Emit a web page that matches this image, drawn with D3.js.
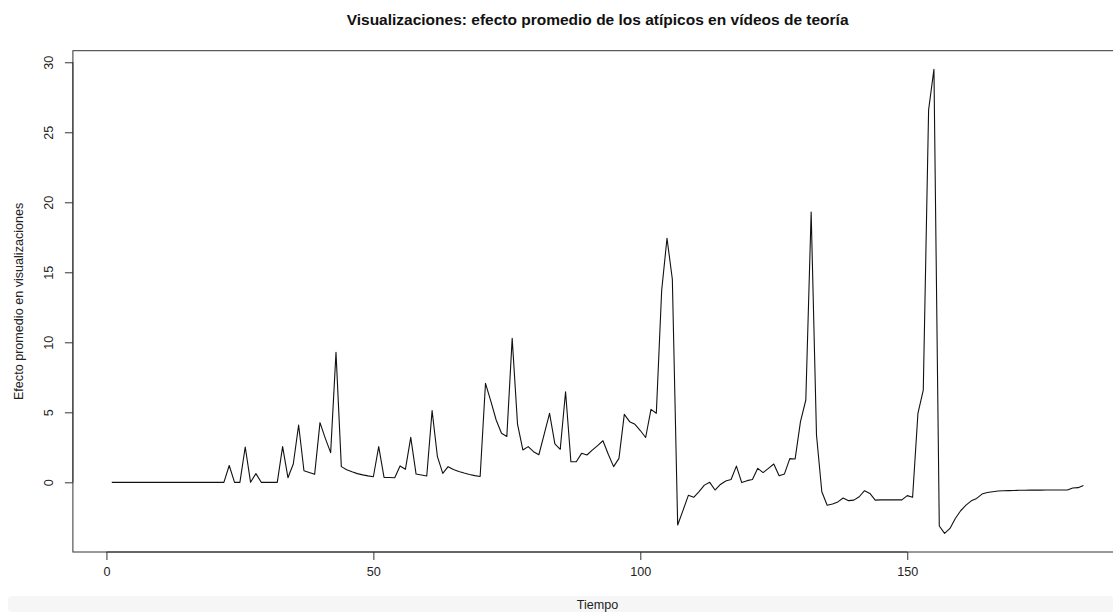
<!DOCTYPE html>
<html>
<head>
<meta charset="utf-8">
<script src="https://cdn.jsdelivr.net/npm/d3@7"></script>
<style>
  body { margin: 0; background: #fff; }
  svg { display: block; font-family: "Liberation Sans", Arial, Helvetica, sans-serif; }
</style>
</head>
<body>
<svg id="chart"></svg>
<script>
// efecto promedio de los atípicos (visualizaciones), un valor por unidad de tiempo
const efecto = [
  0, 0, 0, 0, 0, 0, 0, 0, 0, 0,
  0, 0, 0, 0, 0, 0, 0, 0, 0, 0,
  0, 0, 1.2, 0, 0, 2.52, 0, 0.62, 0, 0,
  0, 0, 2.55, 0.33, 1.31, 4.09, 0.83, 0.7, 0.57, 4.26,
  3.14, 2.12, 9.28, 1.12, 0.9, 0.75, 0.62, 0.53, 0.46, 0.4,
  2.55, 0.35, 0.34, 0.33, 1.17, 0.93, 3.21, 0.59, 0.52, 0.45,
  5.12, 1.83, 0.64, 1.12, 0.92, 0.78, 0.66, 0.56, 0.48, 0.42,
  7.07, 5.8, 4.45, 3.5, 3.28, 10.28, 4.16, 2.31, 2.55, 2.19,
  1.97, 3.45, 4.93, 2.74, 2.36, 6.47, 1.47, 1.47, 2.07, 1.95,
  2.3, 2.62, 2.97, 2.0, 1.12, 1.71, 4.85, 4.33, 4.14, 3.7,
  3.2, 5.21, 4.93, 13.7, 17.43, 14.5, -3.05, -2.0, -0.93, -1.07,
  -0.67, -0.2, 0.0, -0.55, -0.15, 0.1, 0.2, 1.16, -0.02, 0.12,
  0.2, 1.0, 0.69, 1.0, 1.31, 0.47, 0.6, 1.69, 1.67, 4.33,
  5.88, 19.3, 3.38, -0.67, -1.64, -1.55, -1.4, -1.12, -1.31, -1.27,
  -1.03, -0.6, -0.79, -1.27, -1.25, -1.24, -1.25, -1.25, -1.25, -0.95,
  -1.07, 4.92, 6.59, 26.6, 29.5, -3.12, -3.65, -3.29, -2.58, -2.03,
  -1.63, -1.32, -1.15, -0.84, -0.73, -0.67, -0.62, -0.6, -0.59, -0.58,
  -0.57, -0.57, -0.56, -0.56, -0.56, -0.55, -0.55, -0.55, -0.55, -0.55,
  -0.4, -0.38, -0.22
];
const tiempo = efecto.map((d, i) => i + 1);

const xTicks = [0, 50, 100, 150];
const yTicks = [0, 5, 10, 15, 20, 25, 30];

const titulo = "Visualizaciones: efecto promedio de los atípicos en vídeos de teoría";
const xLabel = "Tiempo";
const yLabel = "Efecto promedio en visualizaciones";

const svg_width = 1113, svg_height = 612;
// plot region (the right side runs past the window, as in the screenshot)
const plot = {left: 72.9, right: 1122.3, top: 50.7, bottom: 552};
const baseFont = 12.6;

const svg = d3.select("#chart")
  .attr("width", svg_width)
  .attr("height", svg_height);

// R style axis limits: data range padded by 4% each side
function rRange(ext) {
  const pad = (ext[1] - ext[0]) * 0.04;
  return [ext[0] - pad, ext[1] + pad];
}

const xScale = d3.scaleLinear()
  .domain(rRange(d3.extent(tiempo)))
  .range([plot.left, plot.right]);

const yScale = d3.scaleLinear()
  .domain(rRange(d3.extent(efecto)))
  .range([plot.bottom, plot.top]);

// light strip at the bottom of the screenshot
svg.append("rect")
  .attr("x", 8)
  .attr("y", 596)
  .attr("width", svg_width - 8)
  .attr("height", svg_height - 596)
  .attr("rx", 4)
  .style("fill", "#f6f6f6");

// box round the plot
svg.append("rect")
  .attr("x", plot.left)
  .attr("y", plot.top)
  .attr("width", plot.right - plot.left)
  .attr("height", plot.bottom - plot.top)
  .style("fill", "none")
  .style("stroke", "#333")
  .style("stroke-width", 1);

// x axis
const xAxis = d3.axisBottom(xScale)
  .tickValues(xTicks)
  .tickSizeInner(8)
  .tickSizeOuter(0)
  .tickPadding(7);

const gx = svg.append("g")
  .attr("transform", `translate(0, ${plot.bottom})`)
  .call(xAxis);
gx.select(".domain")
  .attr("d", `M${xScale(xTicks[0])},0H${xScale(xTicks[xTicks.length - 1])}`);
gx.selectAll("line,path")
  .style("stroke", "#333")
  .style("stroke-width", 1);
gx.selectAll("text")
  .style("font-size", baseFont + "px")
  .style("font-family", "Liberation Sans, Arial, sans-serif")
  .style("fill", "#222");

// y axis, labels turned like R's las = 0
const yAxis = d3.axisLeft(yScale)
  .tickValues(yTicks)
  .tickSizeInner(8)
  .tickSizeOuter(0)
  .tickFormat(d3.format("d"));

const gy = svg.append("g")
  .attr("transform", `translate(${plot.left}, 0)`)
  .call(yAxis);
gy.select(".domain")
  .attr("d", `M0,${yScale(yTicks[0])}V${yScale(yTicks[yTicks.length - 1])}`);
gy.selectAll("line,path")
  .style("stroke", "#333")
  .style("stroke-width", 1);
gy.selectAll("text")
  .attr("x", null)
  .attr("dy", null)
  .attr("transform", "translate(-19.5, 0) rotate(-90)")
  .style("text-anchor", "middle")
  .style("font-size", baseFont + "px")
  .style("font-family", "Liberation Sans, Arial, sans-serif")
  .style("fill", "#222");

// the series
const line = d3.line()
  .x((d, i) => xScale(tiempo[i]))
  .y(d => yScale(d));

svg.append("path")
  .datum(efecto)
  .attr("d", line)
  .style("fill", "none")
  .style("stroke", "#111")
  .style("stroke-width", 1.1)
  .style("stroke-linejoin", "round");

// title
svg.append("text")
  .attr("x", (plot.left + plot.right) / 2)
  .attr("y", 25)
  .text(titulo)
  .style("text-anchor", "middle")
  .style("font-size", "15.5px")
  .style("font-weight", "bold")
  .style("fill", "#111");

// axis labels
svg.append("text")
  .attr("x", (plot.left + plot.right) / 2)
  .attr("y", 609)
  .text(xLabel)
  .style("text-anchor", "middle")
  .style("font-size", baseFont + "px")
  .style("fill", "#222");

svg.append("text")
  .attr("transform", `translate(23, ${(plot.top + plot.bottom) / 2}) rotate(-90)`)
  .text(yLabel)
  .style("text-anchor", "middle")
  .style("font-size", baseFont + "px")
  .style("fill", "#222");
</script>
</body>
</html>
